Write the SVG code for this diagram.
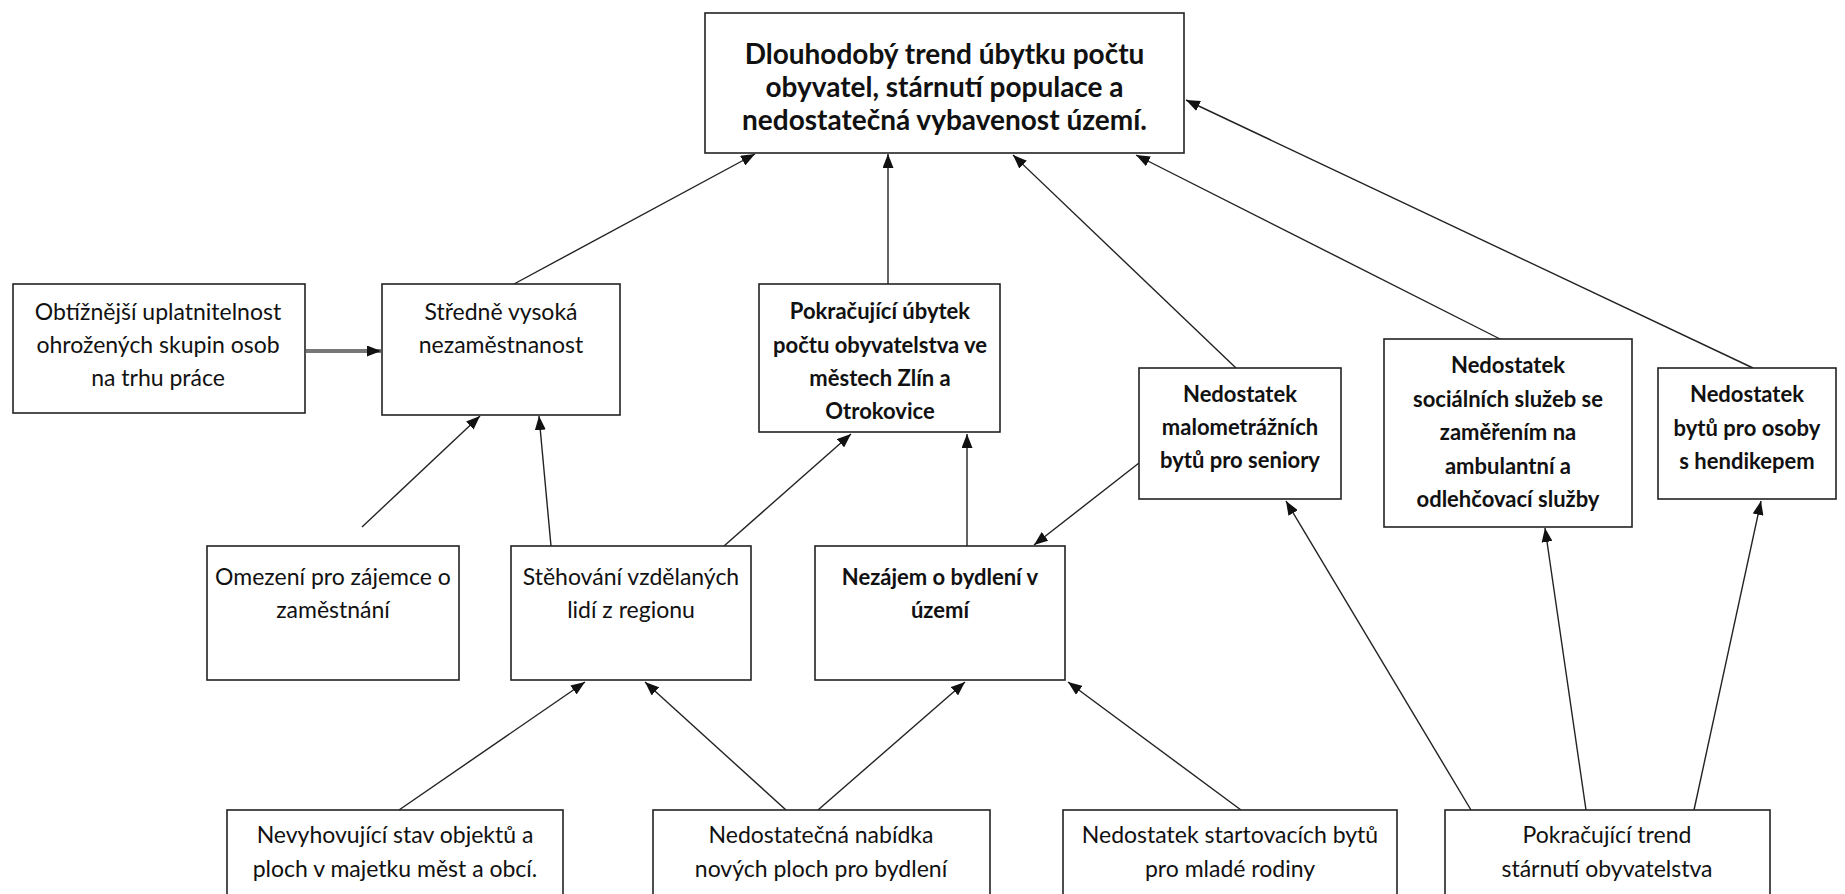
<svg xmlns="http://www.w3.org/2000/svg" width="1845" height="894" viewBox="0 0 1845 894">
<defs>
<style>
.box{fill:#fff;stroke:#222;stroke-width:1.6}
.b{font-family:Lato,"Liberation Sans",sans-serif;font-weight:bold;font-size:22px;fill:#111;text-anchor:middle}
.r{font-family:Lato,"Liberation Sans",sans-serif;font-size:23px;fill:#111;text-anchor:middle}
.t{font-family:Lato,"Liberation Sans",sans-serif;font-weight:bold;font-size:28px;fill:#111;text-anchor:middle}
.c{stroke:#222;stroke-width:1.4;fill:none;marker-end:url(#ah)}
.g{stroke:#777;stroke-width:4;fill:none;marker-end:url(#ah)}
</style>
<marker id="ah" markerUnits="userSpaceOnUse" markerWidth="14" markerHeight="11" refX="14" refY="5.5" orient="auto">
<path d="M0,0 L14,5.5 L0,11 z" fill="#111"/>
</marker>
</defs>
<rect width="1845" height="894" fill="#fff"/>

<g id="connectors">
<line class="c" x1="514" y1="284" x2="755" y2="154"/>
<line class="c" x1="888" y1="284" x2="888" y2="154"/>
<line class="c" x1="1236" y1="368" x2="1013" y2="155"/>
<line class="c" x1="1500" y1="339" x2="1136" y2="155"/>
<line class="c" x1="1753" y1="368" x2="1186" y2="100"/>
<line class="g" x1="306" y1="351" x2="381" y2="351"/>
<line class="c" x1="362" y1="527" x2="480" y2="416"/>
<line class="c" x1="551" y1="546" x2="539" y2="416"/>
<line class="c" x1="724" y1="546" x2="851" y2="434"/>
<line class="c" x1="967" y1="546" x2="967" y2="434"/>
<line class="c" x1="1139" y1="463" x2="1034" y2="545"/>
<line class="c" x1="399" y1="810" x2="585" y2="682"/>
<line class="c" x1="786" y1="810" x2="645" y2="682"/>
<line class="c" x1="818" y1="810" x2="965" y2="682"/>
<line class="c" x1="1241" y1="810" x2="1068" y2="682"/>
<line class="c" x1="1471" y1="810" x2="1286" y2="501"/>
<line class="c" x1="1586" y1="810" x2="1545" y2="528"/>
<line class="c" x1="1694" y1="810" x2="1761" y2="501"/>
</g>

<g id="top">
<rect class="box" x="705" y="13" width="479" height="140"/>
<text class="t" x="944.5" y="64">Dlouhodobý trend úbytku počtu</text>
<text class="t" x="944.5" y="97">obyvatel, stárnutí populace a</text>
<text class="t" x="944.5" y="130">nedostatečná vybavenost území.</text>
</g>

<g id="obtiznejsi">
<rect class="box" x="13" y="284" width="292" height="129"/>
<text class="r" x="158" y="320">Obtížnější uplatnitelnost</text>
<text class="r" x="158" y="353">ohrožených skupin  osob</text>
<text class="r" x="158" y="386">na trhu práce</text>
</g>

<g id="stredne">
<rect class="box" x="382" y="284" width="238" height="131"/>
<text class="r" x="501" y="320">Středně vysoká</text>
<text class="r" x="501" y="353">nezaměstnanost</text>
</g>

<g id="ubytek">
<rect class="box" x="759" y="284" width="241" height="148"/>
<text class="b" x="880" y="319">Pokračující  úbytek</text>
<text class="b" x="880" y="353">počtu obyvatelstva ve</text>
<text class="b" x="880" y="386">městech Zlín a</text>
<text class="b" x="880" y="419">Otrokovice</text>
</g>

<g id="malometrazni">
<rect class="box" x="1139" y="368" width="202" height="131"/>
<text class="b" x="1240" y="402">Nedostatek</text>
<text class="b" x="1240" y="435">malometrážních</text>
<text class="b" x="1240" y="468">bytů pro seniory</text>
</g>

<g id="socialni">
<rect class="box" x="1384" y="339" width="248" height="188"/>
<text class="b" x="1508" y="373">Nedostatek</text>
<text class="b" x="1508" y="407">sociálních  služeb se</text>
<text class="b" x="1508" y="440">zaměřením na</text>
<text class="b" x="1508" y="474">ambulantní a</text>
<text class="b" x="1508" y="507">odlehčovací služby</text>
</g>

<g id="osoby">
<rect class="box" x="1658" y="368" width="178" height="131"/>
<text class="b" x="1747" y="402">Nedostatek</text>
<text class="b" x="1747" y="436">bytů pro osoby</text>
<text class="b" x="1747" y="469">s hendikepem</text>
</g>

<g id="omezeni">
<rect class="box" x="207" y="546" width="252" height="134"/>
<text class="r" x="333" y="585">Omezení pro zájemce o</text>
<text class="r" x="333" y="618">zaměstnání</text>
</g>

<g id="stehovani">
<rect class="box" x="511" y="546" width="240" height="134"/>
<text class="r" x="631" y="585">Stěhování vzdělaných</text>
<text class="r" x="631" y="618">lidí z regionu</text>
</g>

<g id="nezajem">
<rect class="box" x="815" y="546" width="250" height="134"/>
<text class="b" x="940" y="585">Nezájem o bydlení v</text>
<text class="b" x="940" y="618">území</text>
</g>

<g id="nevyhovujici">
<rect class="box" x="227" y="810" width="336" height="100"/>
<text class="r" x="395" y="843">Nevyhovující stav objektů a</text>
<text class="r" x="395" y="877">ploch v majetku měst a obcí.</text>
</g>

<g id="nabidka">
<rect class="box" x="653" y="810" width="337" height="100"/>
<text class="r" x="821" y="843">Nedostatečná nabídka</text>
<text class="r" x="821" y="877">nových ploch pro bydlení</text>
</g>

<g id="startovaci">
<rect class="box" x="1063" y="810" width="334" height="100"/>
<text class="r" x="1230" y="843">Nedostatek startovacích  bytů</text>
<text class="r" x="1230" y="877">pro mladé rodiny</text>
</g>

<g id="starnuti">
<rect class="box" x="1445" y="810" width="325" height="100"/>
<text class="r" x="1607" y="843">Pokračující trend</text>
<text class="r" x="1607" y="877">stárnutí obyvatelstva</text>
</g>
</svg>
